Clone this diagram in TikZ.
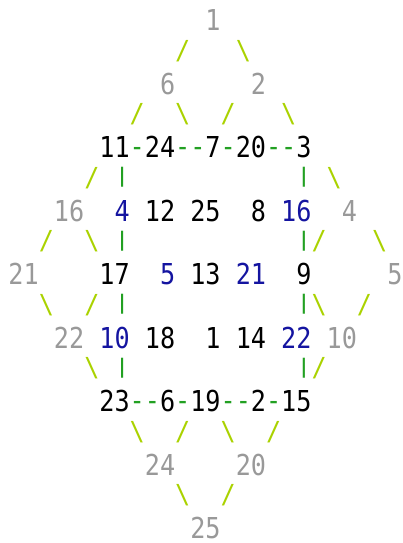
\documentclass[tikz,border=0pt]{standalone}
\usepackage{fontspec}
\usepackage{graphicx}
\newfontfamily\monofnt[FakeStretch=0.874]{DejaVu Sans Mono}
\definecolor{cgray}{RGB}{153,153,153}
\definecolor{clime}{RGB}{170,210,0}
\definecolor{cgreen}{RGB}{34,160,34}
\definecolor{cblue}{RGB}{20,20,160}
\tikzset{
  tk/.style={inner sep=0pt, outer sep=0pt, anchor=base west, font=\monofnt\fontsize{28.8}{30}\selectfont},
  gy/.style={tk, text=cgray},
  bk/.style={tk, text=black},
  bl/.style={tk, text=cblue},
  lm/.style={tk, text=clime},
  gn/.style={tk, text=cgreen}
}
\newsavebox\gbox
% #1 raise above baseline, #2 total height, #3 glyph
\newcommand\fitg[3]{\sbox\gbox{\resizebox*{15.15pt}{#2}{#3}}\leavevmode\raise\dimexpr\dp\gbox+#1\relax\copy\gbox}
\newcommand\fsl{\fitg{0.5pt}{21.5pt}{/}}
\newcommand\bsl{\fitg{0.5pt}{21.5pt}{\textbackslash}}
\newcommand\vbr{\fitg{2pt}{20pt}{|}}
\newcommand\dsh{\raisebox{1.5pt}{-}}
\newcommand\tk[5]{\node[#1] (#2) at ({8.5+#3*15.15},{30.5+#4*31.75}) {#5};}
\begin{document}
\begin{tikzpicture}[x=1pt,y=-1pt]
\useasboundingbox (0,0) rectangle (403,543);
% line 0
\tk{gy}{a1}{13}{0}{1}
% line 1
\tk{lm}{s1a}{11}{1}{\fsl}
\tk{lm}{s1b}{15}{1}{\bsl}
% line 2
\tk{gy}{a6}{10}{2}{6}
\tk{gy}{a2}{16}{2}{2}
% line 3
\tk{lm}{s3a}{8}{3}{\fsl}
\tk{lm}{s3b}{11}{3}{\bsl}
\tk{lm}{s3c}{14}{3}{\fsl}
\tk{lm}{s3d}{18}{3}{\bsl}
% line 4
\tk{bk}{b11}{6}{4}{11}
\tk{gn}{d4a}{8}{4}{\dsh}
\tk{bk}{b24}{9}{4}{24}
\tk{gn}{d4b}{11}{4}{\dsh}
\tk{gn}{d4c}{12}{4}{\dsh}
\tk{bk}{b7}{13}{4}{7}
\tk{gn}{d4d}{14}{4}{\dsh}
\tk{bk}{b20}{15}{4}{20}
\tk{gn}{d4e}{17}{4}{\dsh}
\tk{gn}{d4f}{18}{4}{\dsh}
\tk{bk}{b3}{19}{4}{3}
% line 5
\tk{lm}{s5a}{5}{5}{\fsl}
\tk{gn}{v5a}{7}{5}{\vbr}
\tk{gn}{v5b}{19}{5}{\vbr}
\tk{lm}{s5b}{21}{5}{\bsl}
% line 6
\tk{gy}{a16}{3}{6}{16}
\tk{bl}{c4}{7}{6}{4}
\tk{bk}{b12}{9}{6}{12}
\tk{bk}{b25}{12}{6}{25}
\tk{bk}{b8}{16}{6}{8}
\tk{bl}{c16}{18}{6}{16}
\tk{gy}{a4}{22}{6}{4}
% line 7
\tk{lm}{s7a}{2}{7}{\fsl}
\tk{lm}{s7b}{5}{7}{\bsl}
\tk{gn}{v7a}{7}{7}{\vbr}
\tk{gn}{v7b}{19}{7}{\vbr}
\tk{lm}{s7c}{20}{7}{\fsl}
\tk{lm}{s7d}{24}{7}{\bsl}
% line 8
\tk{gy}{a21}{0}{8}{21}
\tk{bk}{b17}{6}{8}{17}
\tk{bl}{c5}{10}{8}{5}
\tk{bk}{b13}{12}{8}{13}
\tk{bl}{c21}{15}{8}{21}
\tk{bk}{b9}{19}{8}{9}
\tk{gy}{a5}{25}{8}{5}
% line 9
\tk{lm}{s9a}{2}{9}{\bsl}
\tk{lm}{s9b}{5}{9}{\fsl}
\tk{gn}{v9a}{7}{9}{\vbr}
\tk{gn}{v9b}{19}{9}{\vbr}
\tk{lm}{s9c}{20}{9}{\bsl}
\tk{lm}{s9d}{23}{9}{\fsl}
% line 10
\tk{gy}{a22}{3}{10}{22}
\tk{bl}{c10}{6}{10}{10}
\tk{bk}{b18}{9}{10}{18}
\tk{bk}{b1}{13}{10}{1}
\tk{bk}{b14}{15}{10}{14}
\tk{bl}{c22}{18}{10}{22}
\tk{gy}{a10}{21}{10}{10}
% line 11
\tk{lm}{s11a}{5}{11}{\bsl}
\tk{gn}{v11a}{7}{11}{\vbr}
\tk{gn}{v11b}{19}{11}{\vbr}
\tk{lm}{s11b}{20}{11}{\fsl}
% line 12
\tk{bk}{b23}{6}{12}{23}
\tk{gn}{d12a}{8}{12}{\dsh}
\tk{gn}{d12b}{9}{12}{\dsh}
\tk{bk}{b6}{10}{12}{6}
\tk{gn}{d12c}{11}{12}{\dsh}
\tk{bk}{b19}{12}{12}{19}
\tk{gn}{d12d}{14}{12}{\dsh}
\tk{gn}{d12e}{15}{12}{\dsh}
\tk{bk}{b2}{16}{12}{2}
\tk{gn}{d12f}{17}{12}{\dsh}
\tk{bk}{b15}{18}{12}{15}
% line 13
\tk{lm}{s13a}{8}{13}{\bsl}
\tk{lm}{s13b}{11}{13}{\fsl}
\tk{lm}{s13c}{14}{13}{\bsl}
\tk{lm}{s13d}{17}{13}{\fsl}
% line 14
\tk{gy}{a24}{9}{14}{24}
\tk{gy}{a20}{15}{14}{20}
% line 15
\tk{lm}{s15a}{11}{15}{\bsl}
\tk{lm}{s15b}{14}{15}{\fsl}
% line 16
\tk{gy}{a25}{12}{16}{25}
\end{tikzpicture}
\end{document}
